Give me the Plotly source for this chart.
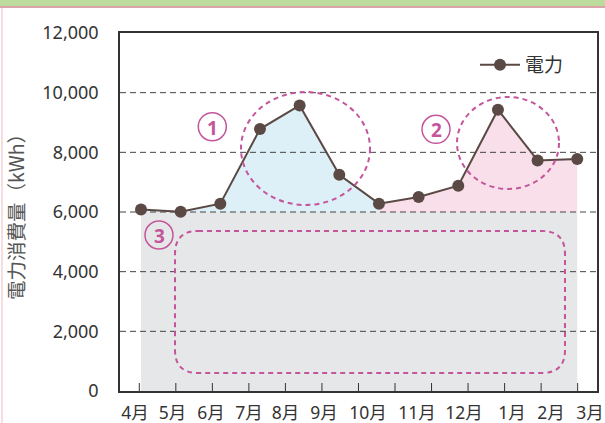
import plotly.graph_objects as go

# ---------------- data ----------------
months = ["4月", "5月", "6月", "7月", "8月", "9月", "10月", "11月", "12月", "1月", "2月", "3月"]
power_kwh = [6080, 6010, 6280, 8780, 9570, 7250, 6280, 6500, 6880, 9430, 7730, 7780]
base_load = 6000          # boundary of region ③
summer_months = months[0:7]   # region ①
winter_months = months[6:12]  # region ②
y_ticks = [0, 2000, 4000, 6000, 8000, 10000, 12000]
series_name = "電力"
y_title = "電力消費量（kWh）"

# ---------------- layout geometry (pixels) ----------------
W, H = 605, 423
L, R, T, B = 120, 8, 33, 32
PW, PH = W - L - R, H - T - B
X0_PX, DX = 141.0, 39.66          # pixel of first data point, spacing


def pxx(px):
    return (px - L) / PW


def pyy(py):
    return (H - B - py) / PH


idx = list(range(len(months)))
xrange_ = [(L - X0_PX) / DX, (W - R - X0_PX) / DX]

FONT = "Noto Sans, Noto Sans CJK JP, sans-serif"
TXT = "#333333"
LINE_C = "#5a4944"
MAG = "#c4559b"
GRAY_FILL = "#e6e7e9"
BLUE_FILL = "#ddf0f7"
PINK_FILL = "#f9dfe9"

fig = go.Figure()

# region ③ (base load)
fig.add_trace(go.Scatter(x=idx, y=[base_load] * len(idx), mode="none", fill="tozeroy",
                         fillcolor=GRAY_FILL, showlegend=False, hoverinfo="skip"))


def band(sel, color):
    ii = [months.index(m) for m in sel]
    xs = ii + ii[::-1]
    ys = [power_kwh[i] for i in ii] + [base_load] * len(ii)
    fig.add_trace(go.Scatter(x=xs, y=ys, mode="none", fill="toself", fillcolor=color,
                             showlegend=False, hoverinfo="skip"))


band(summer_months, BLUE_FILL)   # region ①
band(winter_months, PINK_FILL)   # region ②

# dashed grid lines drawn over the fills
for v in y_ticks[1:-1]:
    fig.add_trace(go.Scatter(x=xrange_, y=[v, v], mode="lines",
                             line=dict(color="#444444", width=1, dash="6px,4px"),
                             showlegend=False, hoverinfo="skip", cliponaxis=False))

# main series
fig.add_trace(go.Scatter(x=idx, y=power_kwh, mode="lines+markers", name=series_name,
                         line=dict(color=LINE_C, width=2),
                         marker=dict(color=LINE_C, size=12), cliponaxis=False))

# ---------------- shapes ----------------
shapes = []
# tick marks (13 marks along the bottom axis)
for k in range(13):
    px = 139.3 + 36.53 * k
    shapes.append(dict(type="line", xref="paper", yref="paper", x0=pxx(px), x1=pxx(px),
                       y0=0, y1=pyy(H - B - 8), line=dict(color="#333", width=1)))

# dashed ellipses
shapes.append(dict(type="circle", xref="paper", yref="paper",
                   x0=pxx(241), x1=pxx(370), y0=pyy(205), y1=pyy(92),
                   line=dict(color=MAG, width=2, dash="5px,4px")))
shapes.append(dict(type="circle", xref="paper", yref="paper",
                   x0=pxx(457), x1=pxx(559), y0=pyy(189), y1=pyy(97),
                   line=dict(color=MAG, width=2, dash="5px,4px")))


# rounded rectangle for region ③
def rrect(x0, y0, x1, y1, r):
    pts = [
        ("M", [(x0 + r, y0)]), ("L", [(x1 - r, y0)]), ("Q", [(x1, y0), (x1, y0 + r)]),
        ("L", [(x1, y1 - r)]), ("Q", [(x1, y1), (x1 - r, y1)]),
        ("L", [(x0 + r, y1)]), ("Q", [(x0, y1), (x0, y1 - r)]),
        ("L", [(x0, y0 + r)]), ("Q", [(x0, y0), (x0 + r, y0)]),
    ]
    out = []
    for cmd, ps in pts:
        out.append(cmd + " ".join(f"{pxx(a):.5f},{pyy(b):.5f}" for a, b in ps))
    return " ".join(out) + " Z"


shapes.append(dict(type="path", xref="paper", yref="paper", path=rrect(175, 231, 565, 373, 23),
                   line=dict(color=MAG, width=2, dash="5px,4px")))

# small circles for the region numbers
num_pos = {"1": (212.3, 126.7), "2": (436, 129.3), "3": (159, 235)}
for k, (cx, cy) in num_pos.items():
    shapes.append(dict(type="circle", xref="paper", yref="paper",
                       x0=pxx(cx - 14), x1=pxx(cx + 14), y0=pyy(cy + 14), y1=pyy(cy - 14),
                       line=dict(color=MAG, width=1.5), fillcolor="rgba(0,0,0,0)"))

# page decorations: green top band, pink rule, pink left rule
shapes.append(dict(type="rect", xref="paper", yref="paper", x0=pxx(0), x1=pxx(W),
                   y0=pyy(6), y1=pyy(0), line=dict(width=0), fillcolor="#bcdb9d"))
shapes.append(dict(type="rect", xref="paper", yref="paper", x0=pxx(0), x1=pxx(W),
                   y0=pyy(8), y1=pyy(6), line=dict(width=0), fillcolor="#dba3a7"))
shapes.append(dict(type="rect", xref="paper", yref="paper", x0=pxx(1), x1=pxx(3),
                   y0=pyy(H), y1=pyy(8), line=dict(width=0), fillcolor="#f5dde2"))

annotations = []
for k, (cx, cy) in num_pos.items():
    annotations.append(dict(xref="paper", yref="paper", x=pxx(cx), y=pyy(cy + 1), text=f"<b>{k}</b>",
                            showarrow=False, font=dict(family=FONT, size=19, color=MAG),
                            xanchor="center", yanchor="middle"))

label_px = [135, 172.5, 211, 249, 285.5, 324, 368, 417, 464, 512, 551, 590]

fig.update_layout(
    width=W, height=H,
    margin=dict(l=L, r=R, t=T, b=B, pad=0),
    paper_bgcolor="white", plot_bgcolor="white",
    font=dict(family=FONT, color=TXT),
    shapes=shapes, annotations=annotations,
    showlegend=True,
    legend=dict(x=pxx(475), y=pyy(46), xanchor="left", yanchor="top",
                bgcolor="rgba(0,0,0,0)", borderwidth=0,
                font=dict(family=FONT, size=19, color=TXT), itemwidth=40),
    xaxis=dict(range=xrange_, showgrid=False, zeroline=False, automargin=False,
               tickmode="array", tickvals=[(p - X0_PX) / DX for p in label_px], ticktext=months,
               ticks="", ticklabelstandoff=5,
               tickfont=dict(family=FONT, size=17.5, color=TXT),
               showline=True, linecolor="#333", linewidth=1.5, mirror=True),
    yaxis=dict(range=[0, 12000], showgrid=False, zeroline=False, automargin=False,
               tickmode="array", tickvals=y_ticks, ticktext=[f"{v:,}" for v in y_ticks],
               ticks="", ticklabelstandoff=16,
               tickfont=dict(family=FONT, size=18, color=TXT),
               showline=True, linecolor="#333", linewidth=1.5, mirror=True,
               title=dict(text=y_title, standoff=13,
                          font=dict(family="Noto Sans CJK JP, sans-serif", size=19.5, color="#555"))),
)

fig.write_html("out.html")
